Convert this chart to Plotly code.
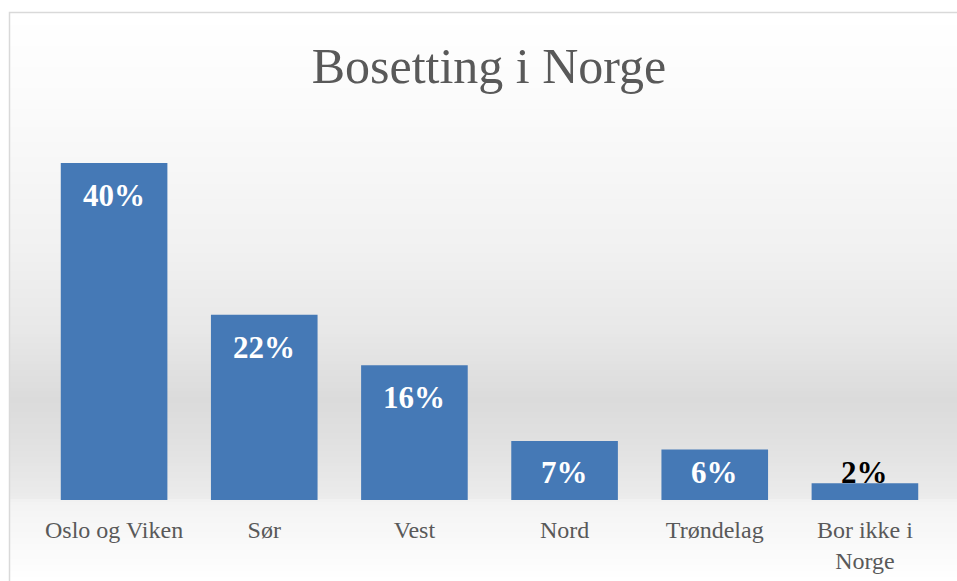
import plotly.graph_objects as go

# ---- data ----
categories = ["Oslo og Viken", "Sør", "Vest", "Nord", "Trøndelag", "Bor ikke i<br>Norge"]
values = [40, 22, 16, 7, 6, 2]
value_labels = ["40%", "22%", "16%", "7%", "6%", "2%"]
title_text = "Bosetting i Norge"

# ---- layout geometry (pixels) ----
W, H = 957, 581
L, R, T, B = 39, 17, 121, 81
PW, PH = W - L - R, H - T - B
Y_MAX = 45


def px_x(px):
    return (px - L) / PW


def px_y(py):
    return (H - B - py) / PH


fig = go.Figure()
fig.add_trace(go.Bar(
    x=categories, y=values,
    marker=dict(color="#4579b6", line=dict(width=0)),
    hoverinfo="x+y",
))

# data labels
LABEL_OFFSET = 3.85
LABEL_MIN = 3.25
annotations = []
for c, v, t in zip(categories, values, value_labels):
    yc = max(v - LABEL_OFFSET, LABEL_MIN)
    inside = yc + 1.0 < v
    annotations.append(dict(
        x=c, y=yc, xref="x", yref="y", text=t, showarrow=False,
        yanchor="middle", xanchor="center",
        font=dict(family="Liberation Serif", size=31,
                  color="#ffffff" if inside else "#000000", weight="bold"),
    ))

# background gradient bands
stops = [(13, 255), (120, 250), (250, 241), (330, 232), (400, 219),
         (450, 226), (499, 236), (501, 243), (581, 255)]


def gray_at(py):
    for (y0, g0), (y1, g1) in zip(stops[:-1], stops[1:]):
        if y0 <= py <= y1:
            if y1 == y0:
                return g1
            return g0 + (g1 - g0) * (py - y0) / (y1 - y0)
    return 255


shapes = []
step = 3
py = 13
while py < H:
    g = int(round(gray_at(py + step / 2)))
    shapes.append(dict(
        type="rect", xref="paper", yref="paper", layer="below",
        x0=px_x(10), x1=px_x(W + 30), y0=px_y(min(py + step, H + 2)), y1=px_y(py),
        fillcolor=f"rgb({g},{g},{g})", line=dict(width=0),
    ))
    py += step

# chart frame
shapes.append(dict(
    type="rect", xref="paper", yref="paper", layer="above",
    x0=px_x(9.5), x1=px_x(W + 40), y0=px_y(H + 40), y1=px_y(12.5),
    line=dict(color="#d9d9d9", width=1.5), fillcolor="rgba(0,0,0,0)",
))

fig.update_layout(
    width=W, height=H,
    margin=dict(l=L, r=R, t=T, b=B, pad=0, autoexpand=False),
    paper_bgcolor="#ffffff", plot_bgcolor="rgba(0,0,0,0)",
    bargap=0.29,
    showlegend=False,
    title=dict(text=title_text, x=(489) / W, xanchor="center",
               y=1 - 65 / H, yanchor="middle", yref="container",
               font=dict(family="Liberation Serif", size=50, color="#595959")),
    xaxis=dict(showgrid=False, zeroline=False, showline=False, ticks="",
               tickfont=dict(family="Liberation Serif", size=24, color="#595959"),
               ticklabelstandoff=13, automargin=False, fixedrange=True),
    yaxis=dict(range=[0, Y_MAX], visible=False, showgrid=False, zeroline=False,
               automargin=False, fixedrange=True),
    annotations=annotations,
    shapes=shapes,
)

fig.write_html(
    "out.html",
    config={"displayModeBar": False},
    post_script="document.body.style.margin='0';document.body.style.overflow='hidden';",
)
